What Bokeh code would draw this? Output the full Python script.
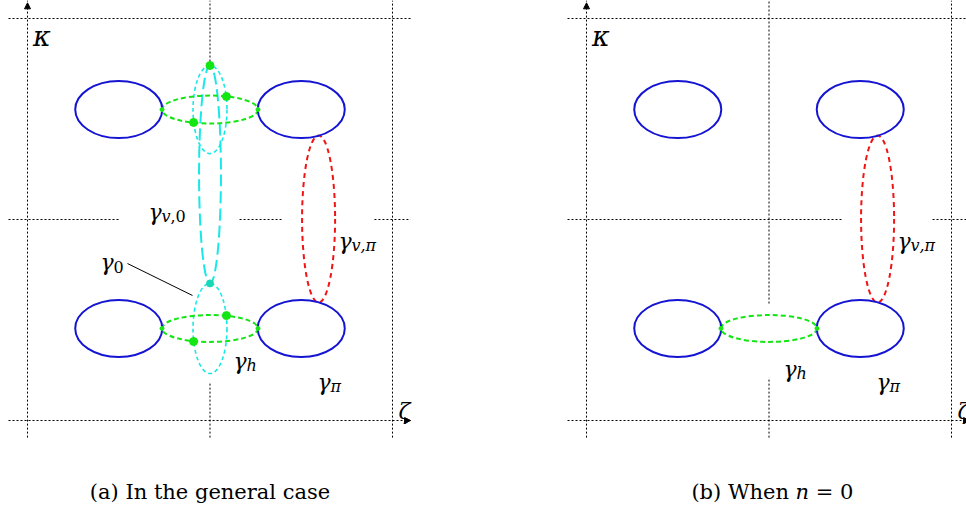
from bokeh.plotting import figure
from bokeh.layouts import row
from bokeh.models import Arrow, NormalHead, Range1d
from bokeh.core.properties import value
from bokeh.embed import file_html
from bokeh.resources import INLINE

# ---- diagram values in lattice units (zeta horizontal, kappa vertical) ----
grid_levels = [0.0, 2.0]
full_zeta_span = [-0.104, 2.099]
full_kappa_span = [-0.085, 2.09]

# kappa = 1 dotted line pieces, zeta = 1 dotted line pieces
mid_h_pieces_a = [(-0.104, 0.499), (1.162, 1.403), (1.901, 2.099)]
mid_h_pieces_b = [(-0.104, 1.403), (1.896, 2.099)]
mid_v_pieces_a = [(1.766, 2.09), (-0.085, 0.184)]
mid_v_pieces_b = [(0.582, 2.09), (-0.085, 0.214)]

# blue contours
blue_zeta = [0.5, 1.5, 0.5, 1.5]
blue_kappa = [1.547, 1.547, 0.458, 0.458]
blue_w = [0.477, 0.477, 0.477, 0.477]
blue_h = [0.284, 0.284, 0.284, 0.284]

# green horizontal loops gamma_h
green_zeta_a = [1.0, 1.0]
green_kappa_a = [1.547, 0.458]
green_w_a = [0.526, 0.526]
green_h_a = [0.139, 0.134]
green_zeta_b = [1.0]
green_kappa_b = [0.458]
green_w_b = [0.526]
green_h_b = [0.134]

# red vertical loop gamma_{v,pi}
red_zeta = [1.595]
red_kappa = [1.0025]
red_w = [0.181]
red_h = [0.831]

# cyan small loops gamma_0 and long loop gamma_{v,0}
cyan_small_zeta = [1.0, 1.0]
cyan_small_kappa = [1.547, 0.458]
cyan_small_w = [0.186, 0.186]
cyan_small_h = [0.438, 0.448]
cyan_long_zeta = [1.0]
cyan_long_kappa = [1.224]
cyan_long_w = [0.12]
cyan_long_h = [1.085]

# intersection points
green_dot_zeta = [1.0, 1.090, 0.910, 1.090, 0.910]
green_dot_kappa = [1.766, 1.612, 1.483, 0.522, 0.393]
cyan_dot_zeta = [1.0]
cyan_dot_kappa = [0.682]
junction_zeta_a = [0.737, 1.263, 0.737, 1.263]
junction_kappa_a = [1.547, 1.547, 0.458, 0.458]
junction_zeta_b = [0.737, 1.263]
junction_kappa_b = [0.458, 0.458]

# gamma_0 leader line
leader_zeta = [0.548, 0.904]
leader_kappa = [0.781, 0.622]

# labels: (zeta, kappa baseline, main, [(subscript piece, style, x offset px)])
labels_a = [
    (0.663, 1.035, "γ", [("v", "italic", 13), (",0", "normal", 22)]),
    (1.704, 0.891, "γ", [("v", "italic", 13), (",π", "italic", 22)]),
    (0.400, 0.786, "γ", [("0", "normal", 13)]),
    (1.129, 0.294, "γ", [("h", "italic", 13)]),
    (1.589, 0.189, "γ", [("π", "italic", 13)]),
    (0.030, 1.910, "κ", []),
    (2.033, 0.045, "ζ", []),
]
labels_b = [
    (1.704, 0.891, "γ", [("v", "italic", 13), (",π", "italic", 22)]),
    (1.079, 0.254, "γ", [("h", "italic", 13)]),
    (1.589, 0.189, "γ", [("π", "italic", 13)]),
    (0.030, 1.910, "κ", []),
    (2.033, 0.045, "ζ", []),
]
caption_a = "(a) In the general case"
caption_b = ["(b) When", "n", "= 0"]
caption_zeta = 1.0
caption_b_zeta = 1.019
caption_kappa = -0.358

PX_PER_ZETA = 182.5
PX_PER_KAPPA = 201.0
PANEL_W, PANEL_H = 483, 515
KAPPA_TOP = 2.0896
BLUE, GREEN, RED, CYAN = "#1414d2", "#14e614", "#f01414", "#18e8e8"
SERIF = value("DejaVu Serif")


def make_panel(x_start):
    p = figure(width=PANEL_W, height=PANEL_H, output_backend="svg",
               toolbar_location=None, min_border=0,
               x_range=Range1d(x_start, x_start + PANEL_W / PX_PER_ZETA),
               y_range=Range1d(KAPPA_TOP - PANEL_H / PX_PER_KAPPA, KAPPA_TOP))
    p.axis.visible = False
    p.grid.visible = False
    p.outline_line_color = None
    p.background_fill_color = "white"
    return p


def draw_grid(p, h_pieces, v_pieces):
    dot = dict(line_color="black", line_width=1, line_dash="2 2")
    for g in grid_levels:
        p.line(full_zeta_span, [g, g], **dot)
        p.line([g, g], full_kappa_span, **dot)
    for a, b in h_pieces:
        p.line([a, b], [1.0, 1.0], **dot)
    for a, b in v_pieces:
        p.line([1.0, 1.0], [a, b], **dot)
    # arrow heads of the axes
    head = dict(size=6, fill_color="black", line_color="black", line_width=1)
    p.add_layout(Arrow(end=NormalHead(**head), x_start=full_zeta_span[1] - 0.02,
                       y_start=0.0, x_end=full_zeta_span[1], y_end=0.0,
                       line_alpha=0))
    p.add_layout(Arrow(end=NormalHead(**head), x_start=0.0, y_start=2.05,
                       x_end=0.0, y_end=2.078, line_alpha=0))


def draw_labels(p, labels):
    for z, k, main, subs in labels:
        size = "27px" if main == "κ" else "22px"
        p.text(x=[z], y=[k], text=[main], text_font=SERIF,
               text_font_style="italic", text_font_size=size,
               text_baseline="alphabetic", text_align="left", text_color="black")
        for piece, style, dx in subs:
            p.text(x=[z], y=[k], text=[piece], text_font=SERIF,
                   text_font_style=style, text_font_size="16px",
                   x_offset=dx, y_offset=4,
                   text_baseline="alphabetic", text_align="left", text_color="black")


# ---------------- panel (a) ----------------
pa = make_panel(-27 / PX_PER_ZETA)
draw_grid(pa, mid_h_pieces_a, mid_v_pieces_a)
pa.ellipse(x=cyan_small_zeta, y=cyan_small_kappa, width=cyan_small_w, height=cyan_small_h,
           fill_color=None, line_color=CYAN, line_width=1.6, line_dash="4 3")
pa.ellipse(x=cyan_long_zeta, y=cyan_long_kappa, width=cyan_long_w, height=cyan_long_h,
           fill_color=None, line_color=CYAN, line_width=2, line_dash="12 5")
pa.ellipse(x=green_zeta_a, y=green_kappa_a, width=green_w_a, height=green_h_a,
           fill_color=None, line_color=GREEN, line_width=2, line_dash="5 3")
pa.ellipse(x=red_zeta, y=red_kappa, width=red_w, height=red_h,
           fill_color=None, line_color=RED, line_width=2, line_dash="5 4")
pa.ellipse(x=blue_zeta, y=blue_kappa, width=blue_w, height=blue_h,
           fill_color=None, line_color=BLUE, line_width=2)
pa.scatter(junction_zeta_a, junction_kappa_a, size=4, color=GREEN)
pa.scatter(green_dot_zeta, green_dot_kappa, size=8, color=GREEN)
pa.scatter(cyan_dot_zeta, cyan_dot_kappa, size=7, color="#18d8b8")
pa.line(leader_zeta, leader_kappa, line_color="black", line_width=1)
draw_labels(pa, labels_a)
pa.text(x=[caption_zeta], y=[caption_kappa], text=[caption_a], text_font=SERIF,
        text_font_size="21px", text_align="center", text_baseline="middle")

# ---------------- panel (b) ----------------
pb = make_panel((PANEL_W - 586) / PX_PER_ZETA)
draw_grid(pb, mid_h_pieces_b, mid_v_pieces_b)
pb.ellipse(x=green_zeta_b, y=green_kappa_b, width=green_w_b, height=green_h_b,
           fill_color=None, line_color=GREEN, line_width=2, line_dash="5 3")
pb.ellipse(x=red_zeta, y=red_kappa, width=red_w, height=red_h,
           fill_color=None, line_color=RED, line_width=2, line_dash="5 4")
pb.ellipse(x=blue_zeta, y=blue_kappa, width=blue_w, height=blue_h,
           fill_color=None, line_color=BLUE, line_width=2)
pb.scatter(junction_zeta_b, junction_kappa_b, size=4, color=GREEN)
draw_labels(pb, labels_b)
# caption (b) with italic n, laid out with approximate DejaVu Serif advances
fs = 21
w1, w2, w3 = 4.96 * fs, 0.96 * fs, 1.80 * fs
start = -(w1 + w2 + w3) / 2
for txt, off, style in [(caption_b[0], start, "normal"),
                        (caption_b[1], start + w1, "italic"),
                        (caption_b[2], start + w1 + w2, "normal")]:
    pb.text(x=[caption_b_zeta], y=[caption_kappa], text=[txt], text_font=SERIF,
            text_font_style=style, text_font_size=f"{fs}px", x_offset=off,
            text_align="left", text_baseline="middle")

layout = row(pa, pb)
open("out.html", "w").write(file_html(layout, INLINE))
